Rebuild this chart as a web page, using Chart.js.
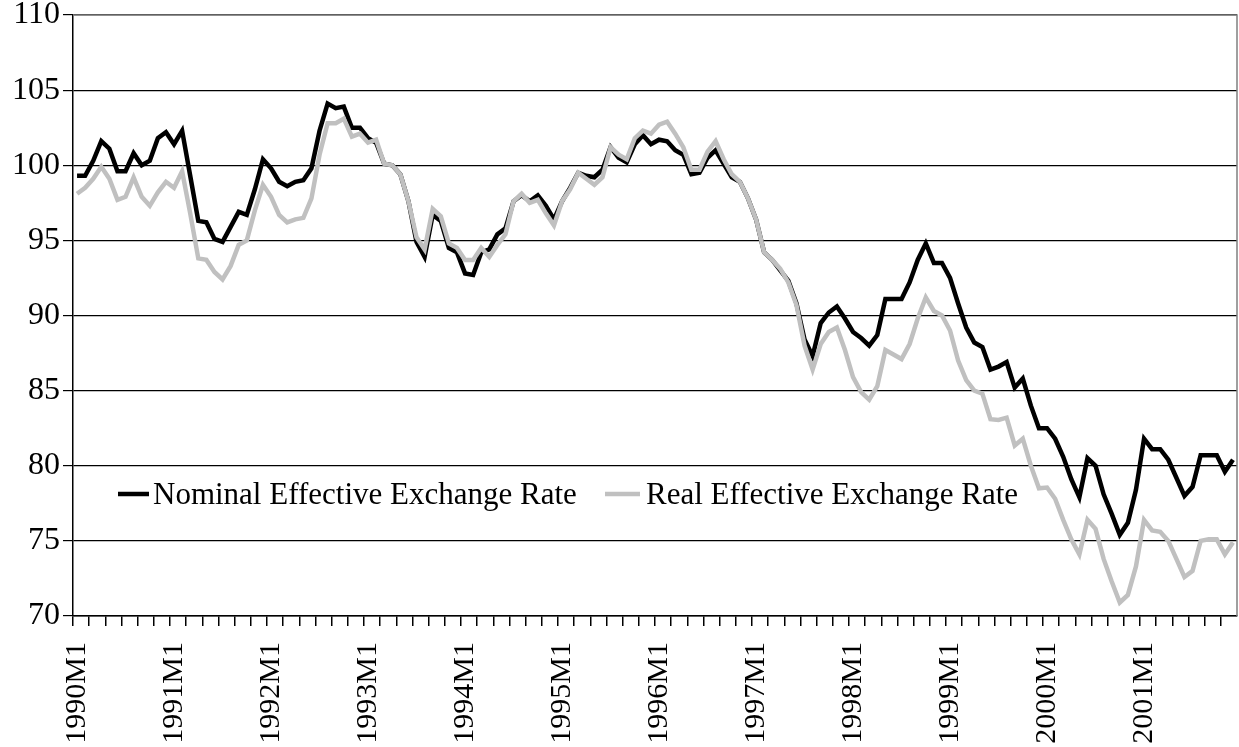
<!DOCTYPE html>
<html>
<head>
<meta charset="utf-8">
<script src="https://cdn.jsdelivr.net/npm/chart.js@4"></script>
<style>
  html, body { margin: 0; padding: 0; background: #fff; }
  canvas { display: block; }
</style>
</head>
<body>
<canvas id="chart" width="1239" height="747"></canvas>
<script>
var years = [1990, 1991, 1992, 1993, 1994, 1995, 1996, 1997, 1998, 1999, 2000, 2001];

var nominal = [
  99.3, 99.3, 100.3, 101.6, 101.1, 99.6, 99.6, 100.8, 100.0, 100.3, 101.8, 102.2,
  101.4, 102.3, 99.3, 96.3, 96.2, 95.1, 94.9, 95.9, 96.9, 96.7, 98.4, 100.4,
  99.8, 98.9, 98.6, 98.9, 99.0, 99.8, 102.3, 104.1, 103.8, 103.9, 102.5, 102.5,
  101.8, 101.5, 100.1, 100.0, 99.4, 97.6, 94.9, 93.9, 96.7, 96.3, 94.5, 94.2,
  92.8, 92.7, 94.2, 94.4, 95.4, 95.8, 97.6, 98.0, 97.6, 98.0, 97.3, 96.4,
  97.6, 98.5, 99.5, 99.3, 99.2, 99.7, 101.2, 100.5, 100.2, 101.4, 102.0, 101.4,
  101.7, 101.6, 101.0, 100.7, 99.4, 99.5, 100.5, 101.0, 100.1, 99.2, 98.9, 97.8,
  96.4, 94.2, 93.7, 93.0, 92.3, 90.8, 88.4, 87.3, 89.5, 90.2, 90.6, 89.8,
  88.9, 88.5, 88.0, 88.7, 91.1, 91.1, 91.1, 92.2, 93.7, 94.8, 93.5, 93.5,
  92.5, 90.8, 89.2, 88.2, 87.9, 86.4, 86.6, 86.9, 85.2, 85.8, 84.0, 82.5,
  82.5, 81.8, 80.6, 79.1, 77.9, 80.5, 80.0, 78.1, 76.8, 75.4, 76.2, 78.4,
  81.8, 81.1, 81.1, 80.4, 79.2, 78.0, 78.6, 80.7, 80.7, 80.7, 79.6, 80.4
];

var real = [
  98.1, 98.5, 99.1, 99.9, 99.1, 97.7, 97.9, 99.2, 97.9, 97.3, 98.2, 98.9,
  98.5, 99.6, 96.8, 93.8, 93.7, 92.9, 92.4, 93.3, 94.7, 95.0, 97.0, 98.7,
  97.9, 96.7, 96.2, 96.4, 96.5, 97.8, 100.7, 102.8, 102.8, 103.1, 101.9, 102.1,
  101.5, 101.7, 100.1, 100.0, 99.4, 97.6, 95.2, 94.4, 97.1, 96.6, 94.8, 94.5,
  93.7, 93.7, 94.5, 93.9, 94.7, 95.4, 97.6, 98.1, 97.5, 97.7, 96.8, 96.0,
  97.6, 98.4, 99.5, 99.1, 98.7, 99.2, 101.2, 100.7, 100.4, 101.8, 102.3, 102.1,
  102.7, 102.9, 102.1, 101.2, 99.7, 99.7, 100.9, 101.6, 100.4, 99.4, 98.9, 97.8,
  96.4, 94.2, 93.7, 93.1, 92.2, 90.7, 88.0, 86.4, 88.1, 88.9, 89.2, 87.7,
  85.9, 84.9, 84.4, 85.3, 87.7, 87.4, 87.1, 88.1, 89.8, 91.2, 90.3, 90.0,
  89.0, 87.0, 85.7, 85.0, 84.8, 83.1, 83.05, 83.2, 81.35, 81.8, 80.0, 78.5,
  78.55, 77.8, 76.4, 75.1, 74.1, 76.4, 75.8, 73.8, 72.3, 70.9, 71.4, 73.3,
  76.4, 75.7, 75.6, 75.0, 73.8, 72.6, 73.0, 75.0, 75.1, 75.1, 74.1, 74.9
];

var seriesNames = ['Nominal Effective Exchange Rate', 'Real Effective Exchange Rate'];

var months = [];
years.forEach(function (y) {
  for (var m = 1; m <= 12; m++) months.push(y + 'M' + m);
});

var serif = "'Liberation Serif', 'Times New Roman', serif";

// legend drawn inside the plot, like the original
var legendInside = {
  id: 'legendInside',
  afterDatasetsDraw: function (chart) {
    var ctx = chart.ctx;
    var items = [
      { x1: 118, x2: 149, tx: 153, color: '#000000', text: seriesNames[0] },
      { x1: 605, x2: 640, tx: 646, color: '#c0c0c0', text: seriesNames[1] }
    ];
    var y = 494;
    ctx.save();
    ctx.font = '31px ' + serif;
    ctx.textBaseline = 'middle';
    ctx.fillStyle = '#000';
    items.forEach(function (it) {
      ctx.beginPath();
      ctx.strokeStyle = it.color;
      ctx.lineWidth = 4.5;
      ctx.moveTo(it.x1, y);
      ctx.lineTo(it.x2, y);
      ctx.stroke();
      ctx.fillText(it.text, it.tx, y + 2);
    });
    ctx.restore();
  }
};

var plotBorder = {
  id: 'plotBorder',
  beforeDatasetsDraw: function (chart) {
    var a = chart.chartArea, ctx = chart.ctx;
    ctx.save();
    ctx.strokeStyle = '#808080';
    ctx.lineWidth = 1.5;
    ctx.beginPath();
    ctx.moveTo(a.left, a.top);
    ctx.lineTo(a.right, a.top);
    ctx.lineTo(a.right, a.bottom);
    ctx.stroke();
    ctx.restore();
  }
};

var ctx = document.getElementById('chart').getContext('2d');
var chart = new Chart(ctx, {
  type: 'line',
  data: {
    labels: months,
    datasets: [{
      label: seriesNames[0],
      data: nominal,
      borderColor: '#000000',
      borderWidth: 4.5,
      pointRadius: 0,
      tension: 0,
      fill: false,
      order: 1
    }, {
      label: seriesNames[1],
      data: real,
      borderColor: '#c0c0c0',
      borderWidth: 4.5,
      pointRadius: 0,
      tension: 0,
      fill: false,
      order: 0
    }]
  },
  options: {
    responsive: false,
    animation: false,
    devicePixelRatio: 1,
    layout: { padding: { top: 15, right: 2, left: 0, bottom: 0 } },
    plugins: {
      legend: { display: false },
      tooltip: { enabled: false }
    },
    scales: {
      x: {
        offset: true,
        grid: {
          offset: true,
          drawOnChartArea: false,
          drawTicks: true,
          tickLength: 10,
          color: function (c) { return c.index % 2 === 0 ? '#000' : 'rgba(0,0,0,0)'; },
          lineWidth: 1.5
        },
        border: { color: '#000', width: 1.5 },
        ticks: {
          autoSkip: false,
          maxRotation: 90,
          minRotation: 90,
          padding: 16,
          color: '#000',
          font: { family: serif, size: 30 },
          callback: function (v, i) { return i % 12 === 0 ? months[i] : ''; }
        },
        afterFit: function (s) {
          s.height = 131;
          s.paddingLeft = 0;
          s.paddingRight = 0;
        }
      },
      y: {
        min: 70,
        max: 110,
        ticks: {
          stepSize: 5,
          padding: 3,
          color: '#000',
          font: { family: serif, size: 32 }
        },
        grid: {
          color: '#000',
          lineWidth: 1.2,
          tickLength: 10
        },
        border: { color: '#000', width: 1.5 },
        afterFit: function (s) {
          s.width = 73;
          s.paddingTop = 0;
          s.paddingBottom = 0;
        }
      }
    }
  },
  plugins: [plotBorder, legendInside]
});
</script>
</body>
</html>
